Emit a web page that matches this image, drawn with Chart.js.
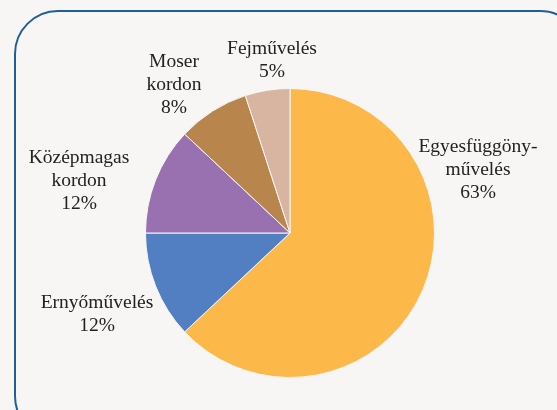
<!DOCTYPE html>
<html>
<head>
<meta charset="utf-8">
<script src="https://cdn.jsdelivr.net/npm/chart.js@4/dist/chart.umd.min.js"></script>
<style>
  html, body { margin: 0; padding: 0; background: #f7f6f4; }
  #wrap { position: relative; width: 557px; height: 410px; overflow: hidden; }
  #frame {
    position: absolute; left: 14px; top: 10px; width: 570px; height: 430px;
    border: 2px solid #1d5e9c; border-radius: 44px; box-sizing: border-box;
  }
  canvas { position: absolute; left: 0; top: 0; }
</style>
</head>
<body>
<div id="wrap">
  <div id="frame"></div>
  <canvas id="pie" width="557" height="410"></canvas>
</div>
<script>
// Data (clockwise from 12 o'clock)
const labels = ['Egyesfüggöny-művelés', 'Ernyőművelés', 'Középmagas kordon', 'Moser kordon', 'Fejművelés'];
const labelLines = [['Egyesfüggöny-', 'művelés'], ['Ernyőművelés'], ['Középmagas', 'kordon'], ['Moser', 'kordon'], ['Fejművelés']];
const shares = [63, 12, 12, 8, 5];
const colors = ['#fdb84a', '#527fc1', '#9a71b0', '#b8854c', '#d7b5a0'];

// where each label block sits, relative to pie centre (px)
const labelOffsets = [[188, -63], [-193, 81], [-211, -52], [-116, -148], [-18, -173]];

const outsideLabels = {
    id: 'outsideLabels',
    afterDatasetsDraw(chart) {
        const ctx = chart.ctx;
        const arc = chart.getDatasetMeta(0).data[0];
        const cx = arc.x, cy = arc.y;
        const lh = 23;
        ctx.save();
        ctx.font = '19.5px "Liberation Serif", serif';
        ctx.fillStyle = '#222222';
        ctx.textAlign = 'center';
        ctx.textBaseline = 'middle';
        shares.forEach((v, i) => {
            const lines = labelLines[i].concat([v + '%']);
            const [dx, dy] = labelOffsets[i];
            const top = cy + dy - (lines.length - 1) * lh / 2;
            lines.forEach((t, k) => ctx.fillText(t, cx + dx, top + k * lh));
        });
        ctx.restore();
    }
};

new Chart(document.getElementById('pie').getContext('2d'), {
    type: 'pie',
    data: {
        labels: labels,
        datasets: [{
            data: shares,
            backgroundColor: colors,
            borderColor: '#f7f6f4',
            borderWidth: 1
        }]
    },
    options: {
        responsive: false,
        animation: false,
        layout: { padding: { top: 88, bottom: 32, left: 145, right: 122 } },
        plugins: { legend: { display: false }, tooltip: { enabled: false } }
    },
    plugins: [outsideLabels]
});
</script>
</body>
</html>
